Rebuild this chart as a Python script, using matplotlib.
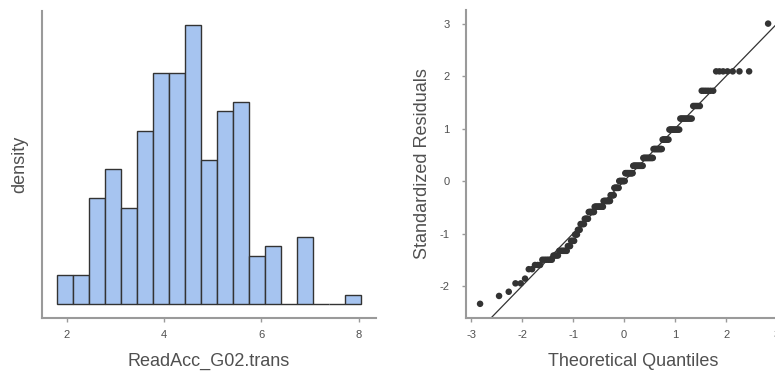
import numpy as np
import matplotlib
matplotlib.use('Agg')
import matplotlib.pyplot as plt
from statistics import NormalDist

plt.rcParams['font.family'] = ['Liberation Sans', 'DejaVu Sans']
plt.rcParams['axes.unicode_minus'] = False

# histogram of ReadAcc_G02.trans (19 bins)
bin_start = 1.807
bin_width = 0.3286
bin_counts = [3, 3, 11, 14, 10, 18, 24, 24, 29, 15, 20, 21, 5, 6, 0, 7, 0, 0, 1]

# standardized residual levels and how many cases sit at each level
resid_levels = [-2.34, -2.19, -2.11, -1.95, -1.86, -1.68, -1.60, -1.50,
                -1.42, -1.33, -1.24, -1.14, -1.02, -0.93, -0.82, -0.72,
                -0.59, -0.49, -0.38, -0.27, -0.13, 0.0, 0.15, 0.29,
                0.44, 0.61, 0.79, 0.98, 1.19, 1.43, 1.72, 2.09, 3.0]
resid_counts = [1, 1, 1, 2, 1, 2, 3, 6,
                4, 7, 3, 4, 3, 3, 5, 5,
                8, 13, 11, 6, 8, 10, 13, 16,
                15, 12, 8, 11, 10, 5, 6, 7, 1]

x_ticks_hist = [2, 4, 6, 8]
x_ticks_qq = [-3, -2, -1, 0, 1, 2, 3]
y_ticks_qq = [-2, -1, 0, 1, 2, 3]

spine_col = '#9a9a9a'
text_col = '#505050'

fig = plt.figure(figsize=(7.75, 3.72), dpi=100)

# --- histogram ---
ax1 = fig.add_axes([0.0542, 0.1452, 0.431, 0.825])
edges = bin_start + bin_width * np.arange(len(bin_counts) + 1)
ax1.hist(edges[:-1], bins=edges, weights=bin_counts,
         color='#a6c4f0', edgecolor='#333333', linewidth=1.0)
ax1.set_xlim(1.49, 8.36)
ax1.set_ylim(-1.42, 30.4)
ax1.set_xticks(x_ticks_hist)
ax1.set_yticks([])
ax1.set_xlabel('ReadAcc_G02.trans', fontsize=13, color=text_col, labelpad=9)
ax1.set_ylabel('density', fontsize=13, color=text_col, labelpad=10)

# --- Q-Q plot ---
ax2 = fig.add_axes([0.6013, 0.1452, 0.431, 0.828])
resid = np.repeat(resid_levels, resid_counts)
resid = np.sort(resid)
n = len(resid)
nd = NormalDist()
theo = np.array([nd.inv_cdf((i - 0.5) / n) for i in range(1, n + 1)])
ax2.plot([-4, 4], [-4, 4], color='#333333', linewidth=0.9, zorder=1)
ax2.scatter(theo, resid, s=22, color='#333333', edgecolors='none', zorder=2)
ax2.set_xlim(-3.10, 3.45)
ax2.set_ylim(-2.61, 3.26)
ax2.set_xticks(x_ticks_qq)
ax2.set_yticks(y_ticks_qq)
ax2.set_xlabel('Theoretical Quantiles', fontsize=13, color=text_col, labelpad=9)
ax2.set_ylabel('Standardized Residuals', fontsize=13, color=text_col, labelpad=6)

for ax in (ax1, ax2):
    for side in ('top', 'right'):
        ax.spines[side].set_visible(False)
    for side in ('left', 'bottom'):
        ax.spines[side].set_color(spine_col)
        ax.spines[side].set_linewidth(1.5)
    ax.tick_params(colors=spine_col, labelcolor=text_col, labelsize=8,
                   length=3, width=1)
    ax.tick_params(axis='x', pad=6)
ax2.tick_params(axis='y', pad=9)

fig.savefig('out.png', dpi=100)
